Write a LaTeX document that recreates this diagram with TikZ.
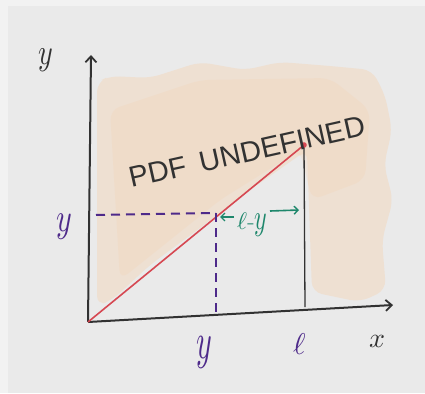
\documentclass[tikz,border=0pt]{standalone}
\usepackage{fontspec}
\usepackage{unicode-math}
\setmathfont{Latin Modern Math}
\newfontfamily\handfont{Liberation Sans}
\usetikzlibrary{arrows.meta}
\definecolor{paper}{RGB}{234,234,234}
\definecolor{framec}{RGB}{242,242,242}
\definecolor{ink}{RGB}{50,50,50}
\definecolor{redline}{RGB}{214,72,82}
\definecolor{purp}{RGB}{78,42,138}
\definecolor{tealc}{RGB}{30,135,108}
\definecolor{peach}{RGB}{244,212,182}
\begin{document}
\begin{tikzpicture}[x=1pt,y=-1pt,
  axis/.style={draw=ink,line width=2pt,-{Straight Barb[length=6pt,width=11pt,line width=1.8pt]}},
  dashline/.style={draw=purp,line width=2pt,dash pattern=on 9pt off 6pt},
  purplab/.style={text=purp,font=\fontsize{30}{30}\selectfont,inner sep=0pt},
  inklab/.style={text=ink,font=\fontsize{28}{28}\selectfont,inner sep=0pt},
  greenarrow/.style={draw=tealc,line width=1.6pt,-{Straight Barb[length=4pt,width=8pt,line width=1.4pt]}}]
\useasboundingbox (0,0) rectangle (425,393);
\fill[framec] (0,0) rectangle (425,393);
\fill[paper] (8,6) rectangle (425,393);
% shaded region
\fill[peach,opacity=0.45,rounded corners=10pt]
  (97,82) -- (110,76) -- (150,78) -- (200,62) -- (245,70) -- (280,62) -- (330,66) -- (372,70) -- (385,95)
  -- (392,130) -- (384,165) -- (393,200) -- (382,240) -- (386,290) -- (360,302) -- (312,292) -- (307,150)
  -- (250,190) -- (200,228) -- (150,265) -- (112,300) -- (97,306) -- cycle;
\fill[peach,opacity=0.3,rounded corners=10pt]
  (110,110) -- (200,80) -- (330,78) -- (370,110) -- (365,180) -- (312,200) -- (300,150) -- (220,200) -- (120,280) -- cycle;
% points
\coordinate (O) at (88,322);
\coordinate (Ytop) at (91,55);
\coordinate (Xend) at (393,305);
\coordinate (P) at (304,145);
\coordinate (B) at (305,307);
\coordinate (D1) at (96,215);
\coordinate (D2) at (216,213);
\coordinate (D3) at (216,316);
% axes
\draw[axis] (O) -- (Ytop);
\draw[axis] (O) -- (Xend);
% red line and black vertical
\draw[draw=ink,line width=1.3pt] (P) -- (B);
\draw[draw=redline,line width=1.6pt] (O) -- (P);
\fill[redline] (P) circle (2.8pt);
% dashed lines
\draw[dashline] (D1) -- (D2);
\draw[dashline] (D2) -- (D3);
% labels
\node[inklab] (ylab) at (46,60) {\scalebox{1}[1.3]{$y$}};
\node[purplab] (yleft) at (64,227) {\scalebox{1}[1.35]{$y$}};
\node[purplab] (ybot) at (204,352) {\scalebox{1}[1.7]{$y$}};
\node[purplab] (ell) at (300,344) {$\ell$};
\node[inklab] (xlab) at (378,341) {$x$};
% l - y
\node[text=tealc,font=\fontsize{24}{24}\selectfont,inner sep=0pt] (ly) at (252,225) {$\ell$-\scalebox{1}[1.5]{$y$}};
\coordinate (la) at (234,217);
\coordinate (lb) at (220,217);
\coordinate (ra) at (270,211);
\coordinate (rb) at (299,210);
\draw[greenarrow] (la) -- (lb);
\draw[greenarrow] (ra) -- (rb);
% PDF UNDEFINED
\node[text=ink,font=\handfont\fontsize{29}{29}\selectfont,rotate=12.6,inner sep=0pt] (pdf) at (247,152) {PDF\hspace{14pt}UNDEFINED};
\end{tikzpicture}
\end{document}
